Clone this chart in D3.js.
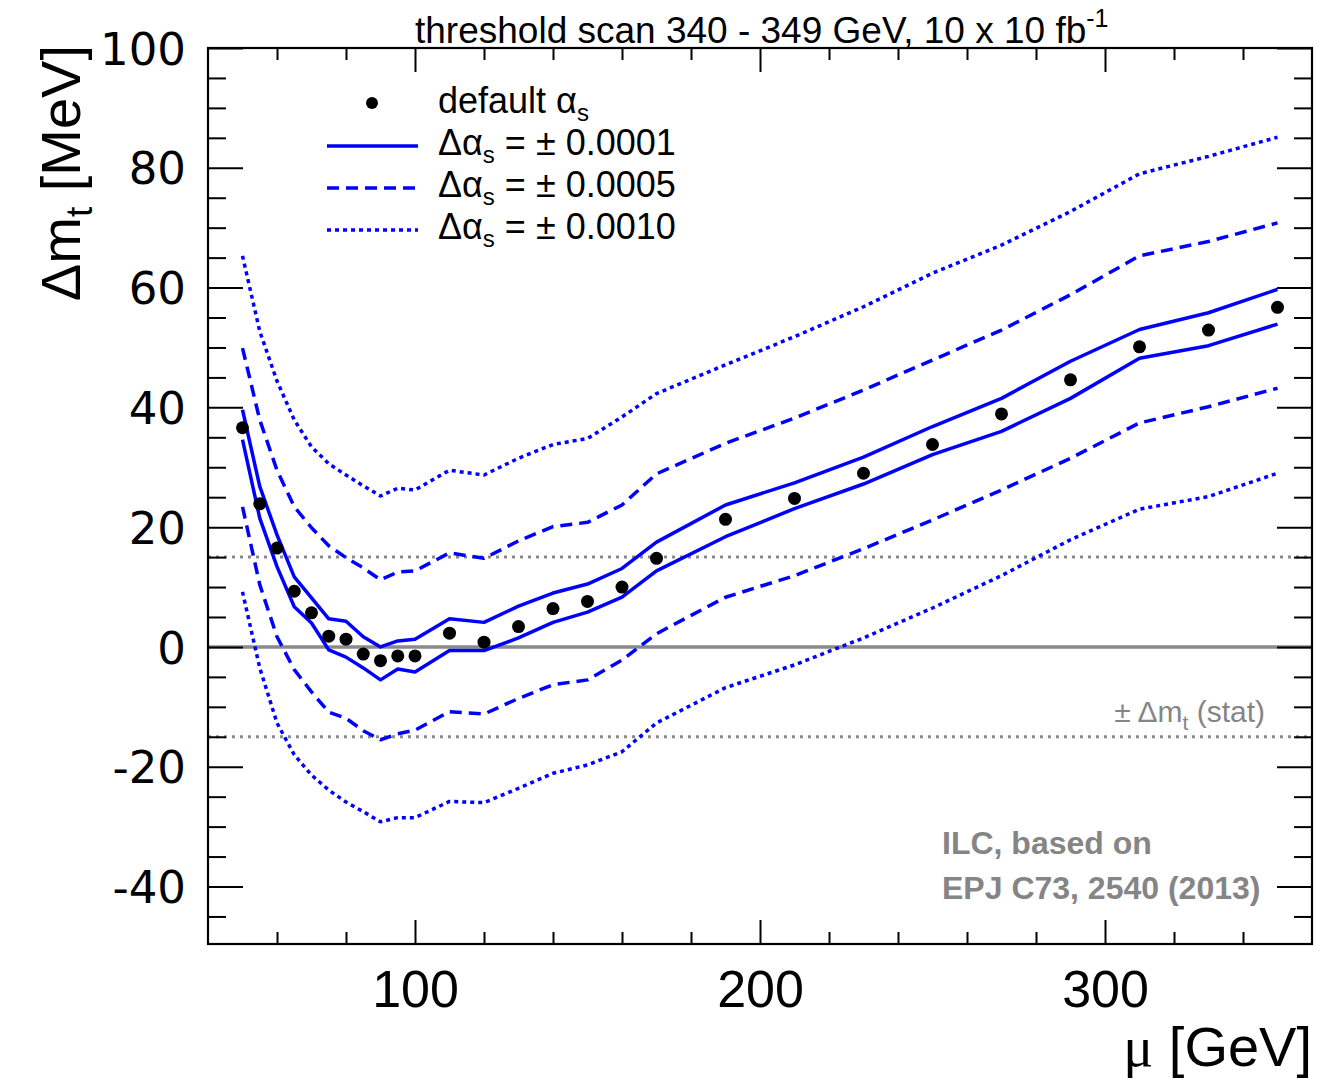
<!DOCTYPE html>
<html>
<head>
<meta charset="utf-8">
<script src="https://cdn.jsdelivr.net/npm/d3@7"></script>
<style>
  html, body { margin: 0; padding: 0; background: #fff; }
  svg { display: block; }
</style>
</head>
<body>
<svg id="chart" width="1324" height="1082"></svg>
<script>
// ---------------- data ----------------
const mu = [50,55,60,65,70,75,80,85,90,95,100,110,120,130,140,150,160,170,190,210,230,250,270,290,310,330,350];
const dmDefault = [36.6,23.9,16.5,9.3,5.7,1.8,1.3,-1.2,-2.3,-1.5,-1.5,2.3,0.8,3.4,6.4,7.6,10.0,14.8,21.3,24.8,29.0,33.8,38.9,44.6,50.1,52.9,56.7];
const solidUp = [39.6,26.8,18.7,11.7,8.2,4.7,4.3,1.7,0.0,1.0,1.3,4.7,4.1,6.8,9.0,10.5,13.1,17.5,23.7,27.4,31.7,36.8,41.5,47.7,53.0,55.8,59.7];
const solidLo = [34.6,21.5,13.4,6.7,4.0,-0.5,-1.7,-3.5,-5.5,-3.7,-4.2,-0.6,-0.6,1.5,4.1,5.8,8.3,12.7,18.4,23.1,27.2,32.1,36.0,41.5,48.2,50.3,53.9];
const dashUp = [49.9,37.9,29.5,23.4,19.9,16.9,14.9,13.2,11.2,12.5,12.7,15.7,14.8,17.7,20.1,20.8,23.7,28.9,34.0,38.2,42.9,47.9,52.9,58.8,65.3,67.7,70.8];
const dashLo = [23.4,10.4,1.7,-3.8,-7.5,-10.9,-11.9,-14.0,-15.5,-14.5,-13.9,-10.8,-11.2,-8.6,-6.3,-5.5,-2.2,2.2,8.3,11.9,16.4,21.2,26.2,31.5,37.4,40.1,43.2];
const dotUp = [65.3,52.7,44.4,37.9,33.4,30.6,28.7,26.9,25.2,26.5,26.2,29.5,28.7,31.5,33.8,34.8,38.4,42.3,47.1,51.8,56.8,62.4,67.1,72.7,79.0,81.9,85.1];
const dotLo = [9.2,-3.5,-12.7,-18.0,-21.4,-23.9,-25.9,-27.5,-29.2,-28.5,-28.5,-25.8,-26.0,-23.6,-21.1,-19.7,-17.5,-12.7,-6.8,-3.0,1.5,6.5,11.9,17.9,23.0,25.1,29.0];

const xMajor = [100,200,300];
const xMinor = [60,80,120,140,160,180,220,240,260,280,320,340];
const yMajor = [-40,-20,0,20,40,60,80,100];
const yMinor = [-45,-35,-30,-25,-15,-10,-5,5,10,15,25,30,35,45,50,55,65,70,75,85,90,95];
const statBand = [-15, 15];

const legendLabels = ["0.0001","0.0005","0.0010"];

// ---------------- layout ----------------
const L = 208, R = 1312, T = 48, B = 944;
const x = d3.scaleLinear().domain([40,360]).range([L,R]);
const y = d3.scaleLinear().domain([-49.6,100]).range([B,T]);

const svg = d3.select("#chart");
const FONT = "'Liberation Sans', Arial, Helvetica, sans-serif";
const BLUE = "#0000ff";
const GRAY = "#858585";
const fmt = d => String(d); // hyphen-minus like the reference

// reference lines
svg.append("line")
  .attr("x1", L).attr("x2", R).attr("y1", y(0)).attr("y2", y(0))
  .attr("stroke", "#8a8a8a").attr("stroke-width", 3.5);
svg.selectAll(".stat").data(statBand).join("line")
  .attr("x1", L).attr("x2", R).attr("y1", d => y(d)).attr("y2", d => y(d))
  .attr("stroke", "#8a8a8a").attr("stroke-width", 3).attr("stroke-dasharray", "3,5");

// curves
const line = d3.line().x(d => x(d[0])).y(d => y(d[1]));
const curves = [
  {v: solidUp, dash: null}, {v: solidLo, dash: null},
  {v: dashUp, dash: "12,7"}, {v: dashLo, dash: "12,7"},
  {v: dotUp, dash: "4,4"}, {v: dotLo, dash: "4,4"}
];
curves.forEach(c => {
  svg.append("path")
    .datum(mu.map((m,i) => [m, c.v[i]]))
    .attr("d", line)
    .attr("fill", "none")
    .attr("stroke", BLUE)
    .attr("stroke-width", 3.5)
    .attr("stroke-linejoin", "round")
    .attr("stroke-dasharray", c.dash);
});

// default points
svg.selectAll(".pt").data(mu.map((m,i) => [m, dmDefault[i]])).join("circle")
  .attr("cx", d => x(d[0])).attr("cy", d => y(d[1])).attr("r", 6.5).attr("fill", "#000");

// ---------------- axes ----------------
function styleAxis(g) {
  g.select(".domain").remove();
  g.selectAll(".tick line").attr("stroke", "#000").attr("stroke-width", 2);
}
// bottom
svg.append("g").attr("transform", `translate(0,${B})`)
  .call(d3.axisBottom(x).tickValues(xMajor).tickSize(-24).tickPadding(0).tickFormat(fmt))
  .call(styleAxis)
  .call(g => g.selectAll("text").attr("y", 63).attr("dy", 0)
      .attr("font-family", FONT).attr("font-size", 52).attr("fill", "#000"));
svg.append("g").attr("transform", `translate(0,${B})`)
  .call(d3.axisBottom(x).tickValues(xMinor).tickSize(-12).tickFormat(""))
  .call(styleAxis);
// top
svg.append("g").attr("transform", `translate(0,${T})`)
  .call(d3.axisTop(x).tickValues(xMajor).tickSize(-24).tickFormat(""))
  .call(styleAxis);
svg.append("g").attr("transform", `translate(0,${T})`)
  .call(d3.axisTop(x).tickValues(xMinor).tickSize(-12).tickFormat(""))
  .call(styleAxis);
// left
svg.append("g").attr("transform", `translate(${L},0)`)
  .call(d3.axisLeft(y).tickValues(yMajor).tickSize(-35).tickPadding(22).tickFormat(fmt))
  .call(styleAxis)
  .call(g => g.selectAll("text").attr("dy", "0.36em")
      .attr("font-family", "'DejaVu Sans', sans-serif").attr("font-size", 45).attr("fill", "#000"));
svg.append("g").attr("transform", `translate(${L},0)`)
  .call(d3.axisLeft(y).tickValues(yMinor).tickSize(-18).tickFormat(""))
  .call(styleAxis);
// right
svg.append("g").attr("transform", `translate(${R},0)`)
  .call(d3.axisRight(y).tickValues(yMajor).tickSize(-35).tickFormat(""))
  .call(styleAxis);
svg.append("g").attr("transform", `translate(${R},0)`)
  .call(d3.axisRight(y).tickValues(yMinor).tickSize(-18).tickFormat(""))
  .call(styleAxis);

// frame
svg.append("rect").attr("x", L).attr("y", T).attr("width", R-L).attr("height", B-T)
  .attr("fill", "none").attr("stroke", "#000").attr("stroke-width", 2.2);

// ---------------- texts ----------------
// title
const title = svg.append("text").attr("x", 415).attr("y", 43)
  .attr("font-family", FONT).attr("font-size", 37).attr("fill", "#000");
title.append("tspan").text("threshold scan 340 - 349 GeV, 10 x 10 fb");
title.append("tspan").attr("dy", -16).attr("font-size", 25).text("-1");

// y title
const yt = svg.append("text").attr("transform", "translate(80,45) rotate(-90)")
  .attr("text-anchor", "end").attr("font-family", FONT).attr("font-size", 56).attr("fill", "#000");
yt.append("tspan").text("\u0394m");
yt.append("tspan").attr("dy", 12).attr("font-size", 37).text("t");
yt.append("tspan").attr("dy", -12).text(" [MeV]");

// x title
const xt = svg.append("text").attr("x", 1312).attr("y", 1066).attr("text-anchor", "end")
  .attr("font-family", FONT).attr("font-size", 56).attr("fill", "#000");
xt.append("tspan").attr("font-family", "'Liberation Serif', serif").text("\u03bc");
xt.append("tspan").text(" [GeV]");

// stat label
const st = svg.append("text").attr("x", 1265).attr("y", 722).attr("text-anchor", "end")
  .attr("font-family", FONT).attr("font-size", 30).attr("fill", GRAY);
st.append("tspan").text("\u00b1 \u0394m");
st.append("tspan").attr("dy", 8).attr("font-size", 21).text("t");
st.append("tspan").attr("dy", -8).text(" (stat)");

// ILC label
svg.append("text").attr("x", 942).attr("y", 854).attr("font-family", FONT)
  .attr("font-weight", "bold").attr("font-size", 32).attr("fill", GRAY).text("ILC, based on");
svg.append("text").attr("x", 942).attr("y", 899).attr("font-family", FONT)
  .attr("font-weight", "bold").attr("font-size", 32).attr("fill", GRAY).text("EPJ C73, 2540 (2013)");

// ---------------- legend ----------------
const lx0 = 327, lx1 = 418, tx = 438;
svg.append("circle").attr("cx", 372).attr("cy", 103).attr("r", 6).attr("fill", "#000");
const l0 = svg.append("text").attr("x", tx).attr("y", 113).attr("font-family", FONT)
  .attr("font-size", 36).attr("fill", "#000");
l0.append("tspan").text("default \u03b1");
l0.append("tspan").attr("dy", 8).attr("font-size", 24).text("s");

const dashes = [null, "12,7", "4,4"];
legendLabels.forEach((lab, i) => {
  const base = 155 + i * 42;
  svg.append("line").attr("x1", lx0).attr("x2", lx1).attr("y1", base - 9).attr("y2", base - 9)
    .attr("stroke", BLUE).attr("stroke-width", 3.5).attr("stroke-dasharray", dashes[i]);
  const t = svg.append("text").attr("x", tx).attr("y", base).attr("font-family", FONT)
    .attr("font-size", 36).attr("fill", "#000");
  t.append("tspan").text("\u0394\u03b1");
  t.append("tspan").attr("dy", 8).attr("font-size", 24).text("s");
  t.append("tspan").attr("dy", -8).text(" = \u00b1 " + lab);
});
</script>
</body>
</html>
